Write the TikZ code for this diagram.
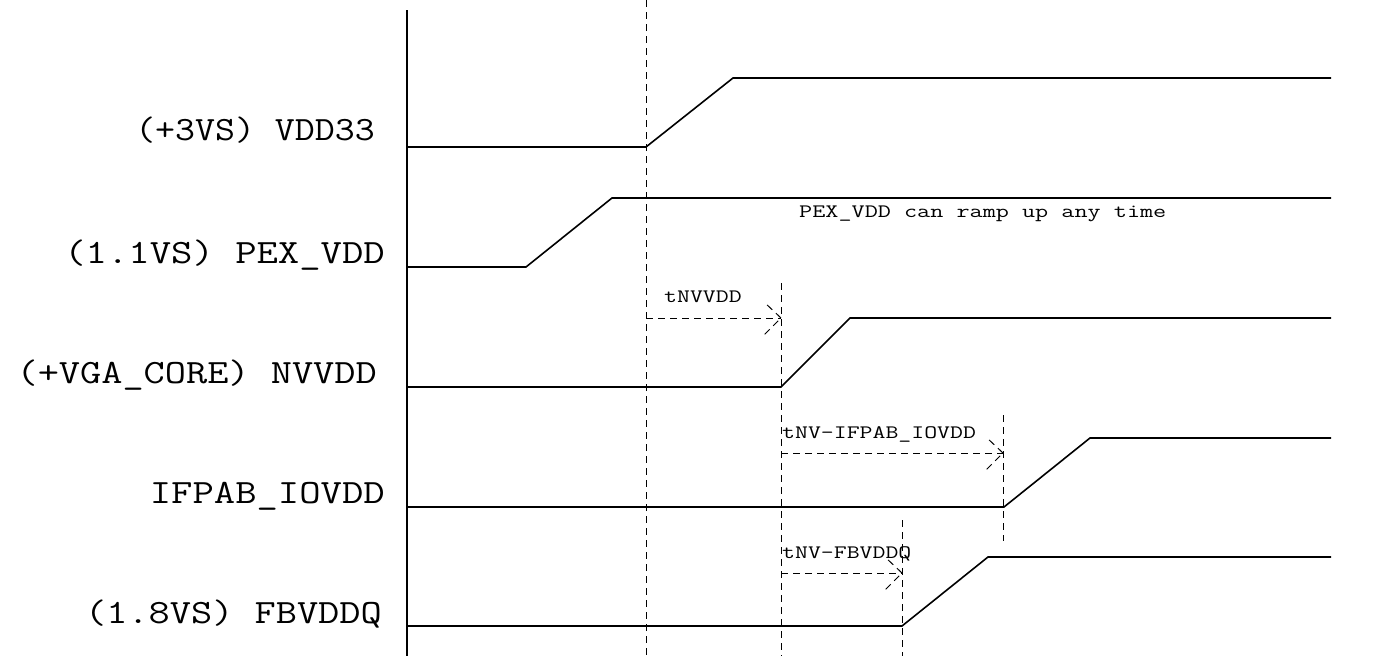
\documentclass[tikz,border=0pt]{standalone}
\usepackage{graphicx}
\begin{document}
\begin{tikzpicture}[x=1pt,y=-1pt,
  sig/.style={line width=1.6pt},
  axisline/.style={line width=1.6pt},
  guide/.style={line width=1pt, dash pattern=on 7pt off 5pt},
  lbl/.style={inner sep=0pt, anchor=base east, font=\fontsize{34}{34}\selectfont\ttfamily},
  note/.style={inner sep=0pt, anchor=base west, font=\fontsize{19}{19}\selectfont\ttfamily}]
\useasboundingbox (0,0) rectangle (1385,656);
% axis
\coordinate (axT) at (407,10);
\coordinate (axB) at (407,656);
\draw[axisline] (axT) -- (axB);
% guide lines
\coordinate (g1T) at (646,0);   \coordinate (g1B) at (646,656);
\coordinate (g2T) at (781,283); \coordinate (g2B) at (781,656);
\coordinate (g3T) at (1003,415);\coordinate (g3B) at (1003,541);
\coordinate (g4T) at (902,520); \coordinate (g4B) at (902,656);
\draw[guide] (g1T) -- (g1B);
\draw[guide] (g2T) -- (g2B);
\draw[guide] (g3T) -- (g3B);
\draw[guide] (g4T) -- (g4B);
% signals
\coordinate (s1a) at (407,147); \coordinate (s1b) at (646,147); \coordinate (s1c) at (733,78); \coordinate (s1d) at (1331,78);
\coordinate (s2a) at (407,267); \coordinate (s2b) at (526,267); \coordinate (s2c) at (612,198); \coordinate (s2d) at (1331,198);
\coordinate (s3a) at (407,387); \coordinate (s3b) at (781,387); \coordinate (s3c) at (850,318); \coordinate (s3d) at (1331,318);
\coordinate (s4a) at (407,507); \coordinate (s4b) at (1004,507); \coordinate (s4c) at (1090,438); \coordinate (s4d) at (1331,438);
\coordinate (s5a) at (407,626); \coordinate (s5b) at (902,626); \coordinate (s5c) at (988,557); \coordinate (s5d) at (1331,557);
\draw[sig] (s1a) -- (s1b) -- (s1c) -- (s1d);
\draw[sig] (s2a) -- (s2b) -- (s2c) -- (s2d);
\draw[sig] (s3a) -- (s3b) -- (s3c) -- (s3d);
\draw[sig] (s4a) -- (s4b) -- (s4c) -- (s4d);
\draw[sig] (s5a) -- (s5b) -- (s5c) -- (s5d);
% labels
\node[lbl] (l1) at (375,140) {\scalebox{1.14}[1]{(+3VS) VDD33}};
\node[lbl] (l2) at (385,263) {\scalebox{1.22}[1]{(1.1VS) PEX\_VDD}};
\node[lbl] (l3) at (377,383) {\scalebox{1.21}[1]{(+VGA\_CORE) NVVDD}};
\node[lbl] (l4) at (385,503) {\scalebox{1.22}[1]{IFPAB\_IOVDD}};
\node[lbl] (l5) at (382,623) {\scalebox{1.21}[1]{(1.8VS) FBVDDQ}};
% notes
\node[note] (n0) at (799,217) {\scalebox{1.34}[1]{PEX\_VDD can ramp up any time}};
\node[note] (n1) at (664,302) {\scalebox{1.32}[1]{tNVVDD}};
\node[note] (n2) at (782,438) {\scalebox{1.32}[1]{tNV-IFPAB\_IOVDD}};
\node[note] (n3) at (782,558) {\scalebox{1.32}[1]{tNV-FBVDDQ}};
% timing arrows
\coordinate (a1s) at (646,318); \coordinate (a1e) at (781,318);
\coordinate (a2s) at (781,453); \coordinate (a2e) at (1003,453);
\coordinate (a3s) at (781,573); \coordinate (a3e) at (902,573);
\foreach \s/\e in {a1s/a1e, a2s/a2e, a3s/a3e}{
  \draw[guide] (\s) -- (\e);
  \draw[guide] (\e) -- ++(-17,-16);
  \draw[guide, dash phase=8pt] (\e) -- ++(-17,17);
}
\end{tikzpicture}
\end{document}
